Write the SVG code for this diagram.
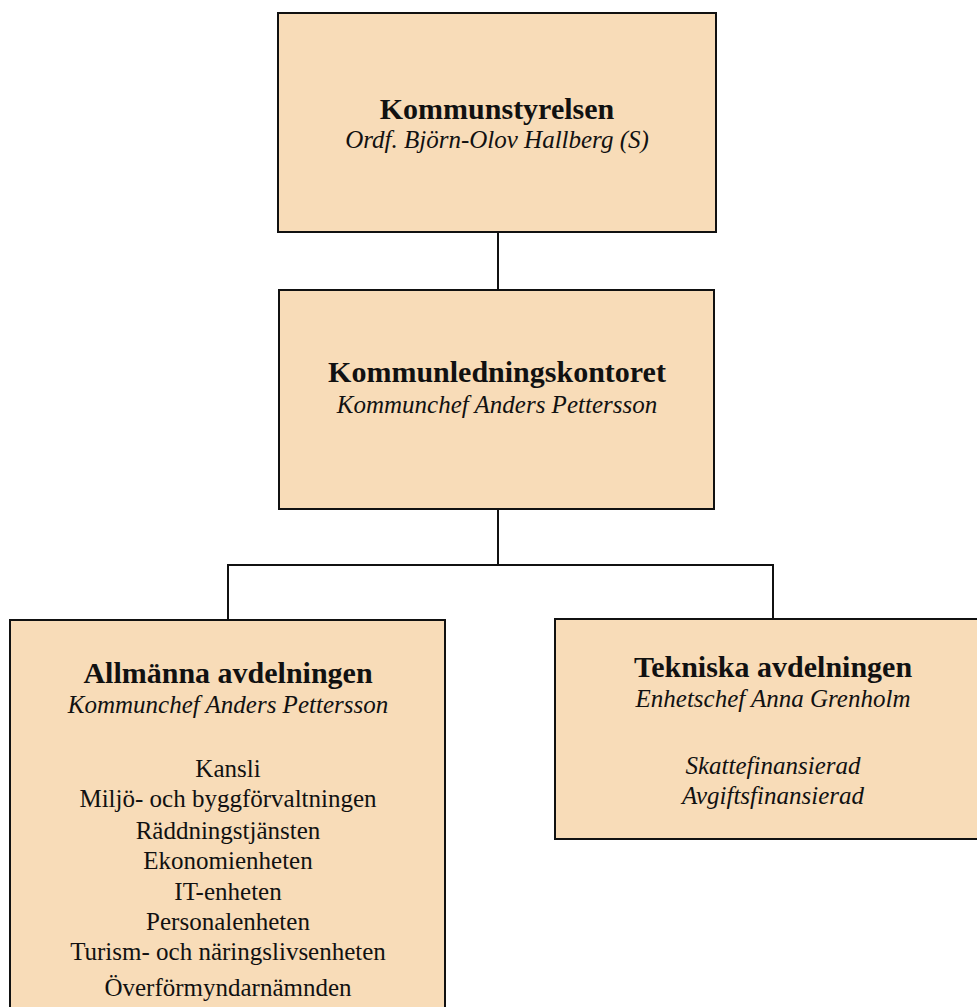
<svg xmlns="http://www.w3.org/2000/svg" width="977" height="1007" viewBox="0 0 977 1007">
<style>
.box{fill:#F8DCB8;stroke:#111;stroke-width:2}
.t{font-family:"Liberation Serif","Times New Roman",serif;fill:#111;text-anchor:middle}
.b{font-weight:bold;font-size:30px}
.i{font-style:italic;font-size:25px}
.r{font-size:25px}
.c{fill:none;stroke:#111;stroke-width:2}
</style>
<rect width="977" height="1007" fill="#fff"/>
<g id="connectors">
<path class="c" d="M498 232V290"/>
<path class="c" d="M498 509V565"/>
<path class="c" d="M228 620V565H773V619"/>
</g>
<g id="kommunstyrelsen">
<rect class="box" x="278" y="13" width="438" height="219"/>
<text class="t b" x="497" y="119">Kommunstyrelsen</text>
<text class="t i" x="497" y="148">Ordf. Björn-Olov Hallberg (S)</text>
</g>
<g id="kommunledningskontoret">
<rect class="box" x="279" y="290" width="435" height="219"/>
<text class="t b" x="497" y="382">Kommunledningskontoret</text>
<text class="t i" x="497" y="413">Kommunchef Anders Pettersson</text>
</g>
<g id="allmanna">
<rect class="box" x="10" y="620" width="435" height="400"/>
<text class="t b" x="228" y="683">Allmänna avdelningen</text>
<text class="t i" x="228" y="713">Kommunchef Anders Pettersson</text>
<text class="t r" x="228" y="777">Kansli</text>
<text class="t r" x="228" y="807">Miljö- och byggförvaltningen</text>
<text class="t r" x="228" y="839">Räddningstjänsten</text>
<text class="t r" x="228" y="869">Ekonomienheten</text>
<text class="t r" x="228" y="900">IT-enheten</text>
<text class="t r" x="228" y="930">Personalenheten</text>
<text class="t r" x="228" y="960">Turism- och näringslivsenheten</text>
<text class="t r" x="228" y="996">Överförmyndarnämnden</text>
</g>
<g id="tekniska">
<rect class="box" x="555" y="619" width="440" height="220"/>
<text class="t b" x="773" y="677">Tekniska avdelningen</text>
<text class="t i" x="773" y="707">Enhetschef Anna Grenholm</text>
<text class="t i" x="773" y="774">Skattefinansierad</text>
<text class="t i" x="773" y="804">Avgiftsfinansierad</text>
</g>
</svg>
